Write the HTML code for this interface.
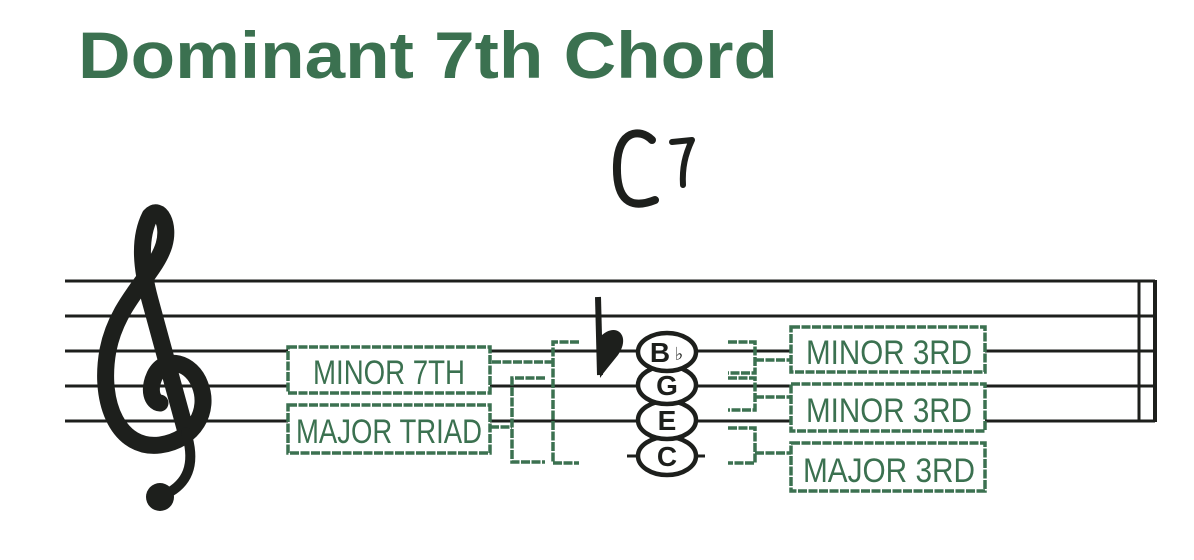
<!DOCTYPE html>
<html><head><meta charset="utf-8"><style>
html,body{margin:0;padding:0;background:#fff;}
svg{display:block;}
</style></head><body>
<svg width="1194" height="560" viewBox="0 0 1194 560" xmlns="http://www.w3.org/2000/svg">
<text x="78" y="78" font-family="Liberation Sans, sans-serif" font-weight="bold" font-size="66" fill="#3b7150" textLength="700" lengthAdjust="spacingAndGlyphs">Dominant 7th Chord</text>

<!-- C7 -->
<path d="M652,140 C640,128 618,130 617,165 C616,200 630,210 655,200" fill="none" stroke="#1d1f1c" stroke-width="8" stroke-linecap="round"/>
<path d="M672,142 L692,140 C685,155 682,168 683,185" fill="none" stroke="#1d1f1c" stroke-width="6" stroke-linecap="round" stroke-linejoin="round"/>

<!-- staff -->
<g stroke="#1d1f1c" stroke-width="3">
<line x1="65" y1="281" x2="1155" y2="281"/>
<line x1="65" y1="316" x2="1155" y2="316"/>
<line x1="65" y1="351" x2="1155" y2="351"/>
<line x1="65" y1="386" x2="1155" y2="386"/>
<line x1="65" y1="421" x2="1155" y2="421"/>
<line x1="1139" y1="280" x2="1139" y2="422"/>
<line x1="1155" y1="280" x2="1155" y2="422" stroke-width="4"/>
<line x1="627" y1="456" x2="705" y2="456"/>
</g>

<!-- treble clef -->
<g fill="none" stroke="#1d1f1c" stroke-linecap="round" stroke-linejoin="round">
<path d="M186,432 L150,300 C142,270 138,240 150,216 C160,205 170,225 164,245 C155,275 118,300 108,350 C98,405 120,450 160,445 C195,440 210,410 200,385 C192,362 165,355 155,375 C148,390 152,402 160,403" stroke-width="17"/>
<path d="M186,432 C195,460 190,480 170,492" stroke-width="10"/>
</g>
<ellipse cx="160" cy="497" rx="14" ry="14" fill="#1d1f1c"/>

<!-- flat -->
<path d="M598,297 L600,375" stroke="#1d1f1c" stroke-width="6" fill="none"/>
<path d="M599,338 C615,320 632,335 618,355 C610,365 604,372 600,378 Z" fill="#1d1f1c"/>

<!-- notes -->
<g fill="#fff" stroke="#1d1f1c" stroke-width="4.5">
<ellipse cx="667" cy="456" rx="29" ry="19"/>
<ellipse cx="667" cy="420" rx="29" ry="19"/>
<ellipse cx="667" cy="385" rx="29" ry="19"/>
<ellipse cx="667" cy="352" rx="29" ry="19"/>
</g>
<g font-family="Liberation Sans, sans-serif" font-weight="bold" font-size="28" fill="#1d1f1c" text-anchor="middle">
<text x="660" y="362">B</text><text x="679" y="360" font-size="18" font-weight="normal">♭</text>
<text x="667" y="395">G</text>
<text x="667" y="430">E</text>
<text x="667" y="466">C</text>
</g>

<!-- green brackets -->
<g fill="none" stroke="#3b7150" stroke-width="3.5" stroke-dasharray="9 1.5">
<path d="M579,342 H553 V463 H579"/>
<path d="M492,362 H553"/>
<path d="M545,378 H512 V462 H545"/>
<path d="M490,427 H512"/>
<path d="M728,342 H755 V373 H728"/>
<path d="M755,360 H791"/>
<path d="M728,378 H755 V410 H728"/>
<path d="M755,397 H791"/>
<path d="M728,428 H755 V463 H728"/>
<path d="M755,453 H791"/>
</g>
<g fill="#fff" stroke="#3b7150" stroke-width="3.5" stroke-dasharray="9 1.5">
<rect x="288" y="347" width="202" height="46"/>
<rect x="288" y="405" width="202" height="48"/>
<rect x="791" y="327" width="194" height="45"/>
<rect x="791" y="384" width="194" height="47"/>
<rect x="791" y="443" width="194" height="48"/>
</g>
<g font-family="Liberation Sans Narrow, Liberation Sans, sans-serif" fill="#3b7150" font-size="34" text-anchor="middle">
<text x="389" y="384" textLength="152" lengthAdjust="spacingAndGlyphs">MINOR 7TH</text>
<text x="389" y="443" textLength="186" lengthAdjust="spacingAndGlyphs">MAJOR TRIAD</text>
<text x="889" y="364" textLength="166" lengthAdjust="spacingAndGlyphs">MINOR 3RD</text>
<text x="889" y="422" textLength="166" lengthAdjust="spacingAndGlyphs">MINOR 3RD</text>
<text x="889" y="482" textLength="172" lengthAdjust="spacingAndGlyphs">MAJOR 3RD</text>
</g>
</svg>
</body></html>
